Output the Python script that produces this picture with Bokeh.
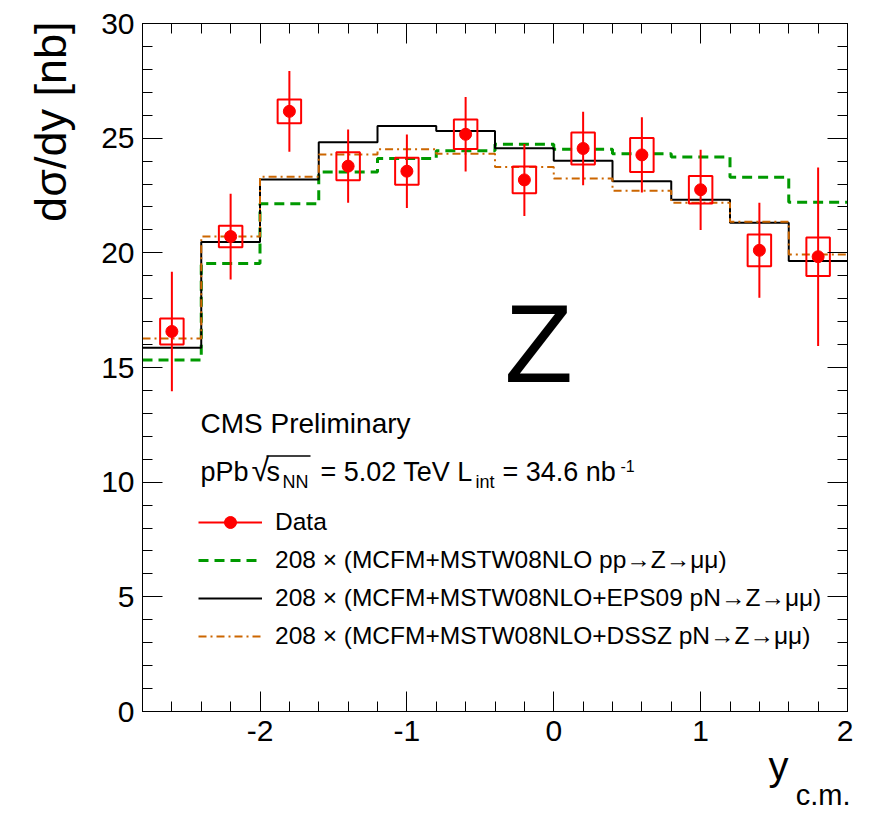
import numpy as np
from bokeh.plotting import figure
from bokeh.models import (Range1d, LinearAxis, SingleIntervalTicker, Label, Title,
                          Legend, LegendItem, BoxAnnotation, CustomLabelingPolicy,
                          CustomJSTickFormatter)
from bokeh.embed import file_html
from bokeh.resources import INLINE

# ---------------- data ----------------
bin_edges = [-2.8, -2.4, -2.0, -1.6, -1.2, -0.8, -0.4, 0.0, 0.4, 0.8, 1.2, 1.6, 2.0]
bin_centers = [-2.6, -2.2, -1.8, -1.4, -1.0, -0.6, -0.2, 0.2, 0.6, 1.0, 1.4, 1.8]
data_y = [16.57, 20.71, 26.17, 23.78, 23.56, 25.17, 23.18, 24.55, 24.27, 22.75, 20.11, 19.83]
stat_err = [2.61, 1.87, 1.76, 1.60, 1.60, 1.62, 1.57, 1.60, 1.64, 1.75, 2.07, 3.89]
sys_err = [0.57, 0.47, 0.52, 0.61, 0.59, 0.64, 0.58, 0.70, 0.74, 0.60, 0.69, 0.84]
theory_pp = [15.33, 19.53, 22.14, 23.52, 24.11, 24.45, 24.73, 24.52, 24.32, 24.18, 23.30, 22.21]
theory_eps09 = [15.86, 20.47, 23.20, 24.82, 25.53, 25.31, 24.56, 24.02, 23.12, 22.31, 21.31, 19.64]
theory_dssz = [16.26, 20.71, 23.32, 24.29, 24.52, 24.32, 23.74, 23.24, 22.71, 22.18, 21.35, 19.93]

legend_labels = [
    "Data",
    "208 \u00d7 (MCFM+MSTW08NLO pp\u2192Z\u2192\u03bc\u03bc)",
    "208 \u00d7 (MCFM+MSTW08NLO+EPS09 pN\u2192Z\u2192\u03bc\u03bc)",
    "208 \u00d7 (MCFM+MSTW08NLO+DSSZ pN\u2192Z\u2192\u03bc\u03bc)",
]

FONT = "Liberation Sans"
GREEN = "#009900"
ORANGE = "#cc6600"

p = figure(width=853, height=812, x_range=Range1d(-2.8, 2.0), y_range=Range1d(0, 30),
           output_backend="svg", toolbar_location=None,
           min_border_left=140, min_border_right=6, min_border_top=23, min_border_bottom=101)
p.xgrid.visible = False
p.ygrid.visible = False
p.outline_line_color = "black"
p.background_fill_color = "white"
p.border_fill_color = "white"

fmt = CustomJSTickFormatter(code="return tick.toFixed(0)")
hide_all = CustomLabelingPolicy(
    code="const all = []; for (const i of indices) all.push(i); "
         "for (const i of all) indices.unset(i); return indices")


def style(ax, ticker, show_labels):
    ax.ticker = ticker
    ax.major_tick_in = 20
    ax.major_tick_out = 0
    ax.minor_tick_in = 10
    ax.minor_tick_out = 0
    ax.axis_line_color = "black"
    ax.major_tick_line_color = "black"
    ax.minor_tick_line_color = "black"
    ax.major_label_text_font = FONT
    ax.major_label_text_color = "black"
    ax.formatter = fmt
    if show_labels:
        ax.major_label_text_font_size = "30px"
    else:
        ax.major_label_text_font_size = "1px"
        ax.major_label_standoff = 0
        ax.major_label_policy = hide_all


style(p.xaxis[0], SingleIntervalTicker(interval=1, num_minor_ticks=5), True)
p.xaxis[0].major_label_standoff = 9
style(p.yaxis[0], SingleIntervalTicker(interval=5, num_minor_ticks=5), True)
p.yaxis[0].major_label_standoff = 8

top_ax = LinearAxis()
style(top_ax, SingleIntervalTicker(interval=1, num_minor_ticks=5), False)
p.add_layout(top_ax, "above")
right_ax = LinearAxis()
style(right_ax, SingleIntervalTicker(interval=5, num_minor_ticks=5), False)
p.add_layout(right_ax, "right")

# axis titles (ROOT style: aligned at the axis end)
p.add_layout(Title(text="d\u03c3/dy [nb]", align="right", offset=-2, standoff=45,
                   text_font=FONT, text_font_size="45px", text_font_style="normal",
                   text_color="black"), "left")
p.add_layout(Title(text="y", align="right", offset=59, standoff=-4,
                   text_font=FONT, text_font_size="40px", text_font_style="normal",
                   text_color="black"), "below")
p.add_layout(Title(text="c.m.", align="right", offset=-3, standoff=-18,
                   text_font=FONT, text_font_size="29px", text_font_style="normal",
                   text_color="black"), "below")

# ---------------- theory histograms ----------------
r_pp = p.step(x=bin_edges, y=theory_pp + [theory_pp[-1]], mode="after",
              line_color=GREEN, line_width=3, line_dash="10 6")
r_eps = p.step(x=bin_edges, y=theory_eps09 + [theory_eps09[-1]], mode="after",
               line_color="black", line_width=2)
r_dssz = p.step(x=bin_edges, y=theory_dssz + [theory_dssz[-1]], mode="after",
                line_color=ORANGE, line_width=2, line_dash="8 4 2 4")

# ---------------- data ----------------
sys_h = [2 * s for s in sys_err]
p.rect(x=bin_centers, y=data_y, width=0.16, height=sys_h, fill_color=None,
       line_color="red", line_width=2)
lo = [v - e for v, e in zip(data_y, stat_err)]
hi = [v + e for v, e in zip(data_y, stat_err)]
r_err = p.segment(x0=bin_centers, y0=lo, x1=bin_centers, y1=hi, line_color="red", line_width=2)
r_pts = p.scatter(x=bin_centers, y=data_y, size=12, color="red")

legend = Legend(items=[
    LegendItem(label=legend_labels[0], renderers=[r_err, r_pts]),
    LegendItem(label=legend_labels[1], renderers=[r_pp]),
    LegendItem(label=legend_labels[2], renderers=[r_eps]),
    LegendItem(label=legend_labels[3], renderers=[r_dssz]),
], location=(56, 60), orientation="vertical", glyph_width=64, glyph_height=30,
    label_height=30, spacing=8, padding=0, margin=0, label_standoff=13,
    border_line_color=None, background_fill_alpha=0,
    label_text_font=FONT, label_text_font_size="24.5px", label_text_color="black")
p.add_layout(legend)


def lab(text, x, y, size, **kw):
    opts = dict(x_units="screen", y_units="screen", text_font=FONT,
                text_font_size=size, text_color="black", text_baseline="alphabetic")
    opts.update(kw)
    p.add_layout(Label(x=x, y=y, text=text, **opts))


lab("CMS Preliminary", 58, 288, "28px")
lab("pPb", 58, 239.5, "27px")
lab("\u221a", 109, 242, "32px")
p.add_layout(BoxAnnotation(left=124, right=168, bottom=254.7, top=256.2,
                           left_units="screen", right_units="screen",
                           bottom_units="screen", top_units="screen",
                           fill_color="black", fill_alpha=1, line_color=None))
lab("s", 124, 239.5, "27px")
lab("NN", 140, 229.5, "18px")
lab("= 5.02 TeV L", 178, 239.5, "27px")
lab("int", 333, 229.5, "18px")
lab("= 34.6 nb", 360, 239.5, "27px")
lab("-1", 478, 245.4, "16px")

lab("Z", 362, 368, "112px")

open("out.html", "w").write(file_html(p, INLINE))
